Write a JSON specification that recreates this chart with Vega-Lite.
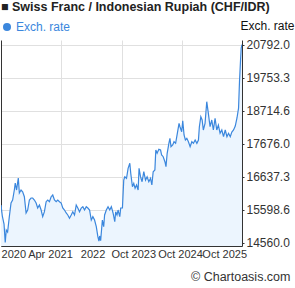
{
  "$schema": "https://vega.github.io/schema/vega-lite/v6.json",
  "autosize": {"type": "none"},
  "width": 241,
  "height": 206,
  "padding": {"left": 1, "top": 40, "right": 53, "bottom": 42},
  "background": "white",
  "config": {"view": {"stroke": null}, "font": "Liberation Sans"},
  "title": {"text": "■ Swiss Franc / Indonesian Rupiah (CHF/IDR)", "anchor": "start", "frame": "group", "fontSize": 12.5, "fontWeight": "bold", "color": "#222222", "font": "Liberation Sans", "offset": 6},
  "data": {"values": [
    {"date": "2020-10-20", "rate": 15740}, {"date": "2020-10-30", "rate": 15394}, {"date": "2020-11-12", "rate": 15142}, {"date": "2020-11-21", "rate": 14560},
    {"date": "2020-11-29", "rate": 14953}, {"date": "2020-12-09", "rate": 14890}, {"date": "2020-12-22", "rate": 15372}, {"date": "2021-01-04", "rate": 15803},
    {"date": "2021-01-16", "rate": 15898}, {"date": "2021-01-29", "rate": 16212}, {"date": "2021-02-05", "rate": 16433}, {"date": "2021-02-15", "rate": 16212},
    {"date": "2021-02-28", "rate": 16590}, {"date": "2021-03-08", "rate": 16118}, {"date": "2021-03-21", "rate": 16212}, {"date": "2021-04-02", "rate": 16159},
    {"date": "2021-04-15", "rate": 16002}, {"date": "2021-04-28", "rate": 15489}, {"date": "2021-05-10", "rate": 15583}, {"date": "2021-05-23", "rate": 15898},
    {"date": "2021-06-05", "rate": 15961}, {"date": "2021-06-17", "rate": 15961}, {"date": "2021-06-30", "rate": 15898}, {"date": "2021-07-13", "rate": 15803},
    {"date": "2021-07-25", "rate": 15646}, {"date": "2021-08-07", "rate": 15740}, {"date": "2021-08-20", "rate": 15583}, {"date": "2021-09-01", "rate": 15372},
    {"date": "2021-09-14", "rate": 15529}, {"date": "2021-09-27", "rate": 15844}, {"date": "2021-10-09", "rate": 15898}, {"date": "2021-10-22", "rate": 15844},
    {"date": "2021-11-04", "rate": 16002}, {"date": "2021-11-16", "rate": 16055}, {"date": "2021-11-29", "rate": 15898}, {"date": "2021-12-12", "rate": 15844},
    {"date": "2021-12-24", "rate": 15898}, {"date": "2022-01-06", "rate": 15844}, {"date": "2022-01-19", "rate": 15803}, {"date": "2022-01-31", "rate": 15646},
    {"date": "2022-02-13", "rate": 15583}, {"date": "2022-02-26", "rate": 15489}, {"date": "2022-03-10", "rate": 15426}, {"date": "2022-03-23", "rate": 15322},
    {"date": "2022-04-05", "rate": 15426}, {"date": "2022-04-17", "rate": 15529}, {"date": "2022-04-30", "rate": 15426}, {"date": "2022-05-13", "rate": 15740},
    {"date": "2022-05-25", "rate": 15646}, {"date": "2022-06-07", "rate": 15529}, {"date": "2022-06-20", "rate": 15646}, {"date": "2022-07-02", "rate": 15687},
    {"date": "2022-07-15", "rate": 15583}, {"date": "2022-07-28", "rate": 15687}, {"date": "2022-08-09", "rate": 15646}, {"date": "2022-08-22", "rate": 15583},
    {"date": "2022-09-04", "rate": 15268}, {"date": "2022-09-16", "rate": 15372}, {"date": "2022-09-29", "rate": 15268}, {"date": "2022-10-12", "rate": 15057},
    {"date": "2022-10-24", "rate": 14743}, {"date": "2022-11-01", "rate": 14600}, {"date": "2022-11-06", "rate": 14765}, {"date": "2022-11-14", "rate": 14620},
    {"date": "2022-11-27", "rate": 15268}, {"date": "2022-12-07", "rate": 15057}, {"date": "2022-12-14", "rate": 15426}, {"date": "2022-12-27", "rate": 15583},
    {"date": "2023-01-09", "rate": 15687}, {"date": "2023-01-22", "rate": 15583}, {"date": "2023-02-03", "rate": 15687}, {"date": "2023-02-16", "rate": 15489},
    {"date": "2023-03-01", "rate": 15215}, {"date": "2023-03-08", "rate": 15529}, {"date": "2023-03-18", "rate": 15426}, {"date": "2023-03-26", "rate": 15583},
    {"date": "2023-04-08", "rate": 15372}, {"date": "2023-04-15", "rate": 15646}, {"date": "2023-04-28", "rate": 15646}, {"date": "2023-05-08", "rate": 16527},
    {"date": "2023-05-16", "rate": 16631}, {"date": "2023-05-29", "rate": 16581}, {"date": "2023-06-10", "rate": 16895}, {"date": "2023-06-23", "rate": 17053},
    {"date": "2023-06-30", "rate": 16738}, {"date": "2023-07-13", "rate": 16316}, {"date": "2023-07-23", "rate": 16423}, {"date": "2023-08-02", "rate": 16266},
    {"date": "2023-08-13", "rate": 16370}, {"date": "2023-08-25", "rate": 16212}, {"date": "2023-09-01", "rate": 16895}, {"date": "2023-09-12", "rate": 16631},
    {"date": "2023-09-24", "rate": 16474}, {"date": "2023-10-07", "rate": 16788}, {"date": "2023-10-20", "rate": 16527}, {"date": "2023-11-01", "rate": 16631},
    {"date": "2023-11-14", "rate": 16474}, {"date": "2023-11-27", "rate": 16581}, {"date": "2023-12-07", "rate": 16370}, {"date": "2023-12-17", "rate": 16788},
    {"date": "2023-12-30", "rate": 16842}, {"date": "2024-01-06", "rate": 17471}, {"date": "2024-01-16", "rate": 17368}, {"date": "2024-01-29", "rate": 17493},
    {"date": "2024-02-11", "rate": 17471}, {"date": "2024-02-19", "rate": 17314}, {"date": "2024-03-02", "rate": 17261}, {"date": "2024-03-15", "rate": 17103},
    {"date": "2024-03-23", "rate": 16946}, {"date": "2024-04-01", "rate": 17368}, {"date": "2024-04-14", "rate": 17682}, {"date": "2024-04-22", "rate": 17840},
    {"date": "2024-04-30", "rate": 17575}, {"date": "2024-05-13", "rate": 17629}, {"date": "2024-05-23", "rate": 17733}, {"date": "2024-06-04", "rate": 17682},
    {"date": "2024-06-17", "rate": 17997}, {"date": "2024-06-30", "rate": 18312}, {"date": "2024-07-07", "rate": 18205}, {"date": "2024-07-20", "rate": 18047},
    {"date": "2024-07-28", "rate": 18394}, {"date": "2024-08-07", "rate": 17944}, {"date": "2024-08-17", "rate": 17786}, {"date": "2024-08-28", "rate": 17840},
    {"date": "2024-09-09", "rate": 17733}, {"date": "2024-09-22", "rate": 17575}, {"date": "2024-10-05", "rate": 17733}, {"date": "2024-10-17", "rate": 17682},
    {"date": "2024-10-30", "rate": 17786}, {"date": "2024-11-12", "rate": 17682}, {"date": "2024-11-24", "rate": 17786}, {"date": "2024-12-01", "rate": 18205},
    {"date": "2024-12-12", "rate": 18520}, {"date": "2024-12-22", "rate": 18416}, {"date": "2024-12-31", "rate": 18101}, {"date": "2025-01-13", "rate": 18312},
    {"date": "2025-01-26", "rate": 18992}, {"date": "2025-02-07", "rate": 18627}, {"date": "2025-02-20", "rate": 18205}, {"date": "2025-03-05", "rate": 18416},
    {"date": "2025-03-17", "rate": 18101}, {"date": "2025-03-30", "rate": 18469}, {"date": "2025-04-12", "rate": 18101}, {"date": "2025-04-24", "rate": 18258},
    {"date": "2025-05-07", "rate": 17997}, {"date": "2025-05-20", "rate": 18101}, {"date": "2025-06-02", "rate": 17890}, {"date": "2025-06-15", "rate": 18101},
    {"date": "2025-06-28", "rate": 17890}, {"date": "2025-07-10", "rate": 17997}, {"date": "2025-07-23", "rate": 17890}, {"date": "2025-08-04", "rate": 18038},
    {"date": "2025-08-17", "rate": 18101}, {"date": "2025-08-30", "rate": 18227}, {"date": "2025-09-12", "rate": 18479}, {"date": "2025-09-24", "rate": 18793},
    {"date": "2025-10-01", "rate": 19621}, {"date": "2025-10-09", "rate": 20304}, {"date": "2025-10-14", "rate": 20682}, {"date": "2025-10-20", "rate": 20792}
  ]},
  "layer": [
    {
      "mark": {"type": "area", "color": "#ecf5fe", "clip": true},
      "encoding": {
        "x": {"field": "date", "type": "temporal",
          "scale": {"domain": [{"year": 2020, "month": 10, "date": 20, "utc": true}, {"year": 2025, "month": 10, "date": 20, "utc": true}], "nice": false},
          "axis": {"orient": "bottom", "title": null, "labels": false, "ticks": false, "grid": true, "gridColor": "#e0e0e0", "gridWidth": 1,
            "domain": true, "domainColor": "#333333", "domainWidth": 1,
            "values": [{"year": 2022, "month": 1, "date": 19, "utc": true}, {"year": 2023, "month": 4, "date": 21, "utc": true}, {"year": 2024, "month": 7, "date": 20, "utc": true}]}},
        "y": {"field": "rate", "type": "quantitative",
          "scale": {"domain": [14450, 20934], "nice": false, "zero": false},
          "axis": {"orient": "right", "values": [14560, 15598.6, 16637.3, 17676, 18714.6, 19753.3, 20792], "format": ".1f",
            "grid": true, "gridColor": "#e0e0e0", "domain": true, "domainColor": "#333333", "ticks": true, "tickSize": 2, "tickColor": "#333333",
            "labelFont": "Liberation Sans", "labelFontSize": 12, "labelColor": "#333333", "labelPadding": 2,
            "title": "Exch. rate", "titleAngle": 0, "titleAlign": "center", "titleBaseline": "middle", "titleX": 25, "titleY": -15,
            "titleFont": "Liberation Sans", "titleFontSize": 12, "titleFontWeight": "normal", "titleColor": "#111111"}}
      }
    },
    {
      "mark": {"type": "line", "strokeWidth": 1.2, "clip": true},
      "encoding": {
        "x": {"field": "date", "type": "temporal",
          "axis": {"orient": "bottom", "grid": false, "domain": false, "ticks": false, "labelPadding": 2,
            "labelFont": "Liberation Sans", "labelFontSize": 11, "labelColor": "#333333", "labelOverlap": false, "labelFlush": false,
            "values": [{"year": 2021, "month": 1, "date": 21, "utc": true}, {"year": 2021, "month": 10, "date": 26, "utc": true}, {"year": 2022, "month": 9, "date": 14, "utc": true}, {"year": 2023, "month": 7, "date": 19, "utc": true}, {"year": 2024, "month": 7, "date": 7, "utc": true}, {"year": 2025, "month": 6, "date": 7, "utc": true}],
            "labelExpr": "utcyear(datum.value) == 2021 ? (utcmonth(datum.value) == 0 ? '2020' : 'Apr 2021') : utcyear(datum.value) == 2022 ? '2022' : utcyear(datum.value) == 2023 ? 'Oct 2023' : utcyear(datum.value) == 2024 ? 'Oct 2024' : 'Oct 2025'",
            "title": "© Chartoasis.com", "titleAnchor": "end", "titleAlign": "right", "titleBaseline": "middle", "titleX": 289, "titleY": 30,
            "titleFont": "Liberation Sans", "titleFontSize": 12.5, "titleFontWeight": "normal", "titleColor": "#333333"}},
        "y": {"field": "rate", "type": "quantitative",
          "axis": {"orient": "left", "labels": false, "ticks": false, "grid": false, "domain": true, "domainColor": "#333333", "title": null}},
        "color": {"datum": "Exch. rate", "scale": {"range": ["#3b87dd"]},
          "legend": {"orient": "none", "legendX": 0, "legendY": -19, "title": null, "padding": 0, "symbolType": "circle", "symbolSize": 64,
            "symbolFillColor": "#3b87dd", "symbolStrokeWidth": 0, "labelColor": "#3b87dd", "labelFont": "Liberation Sans", "labelFontSize": 12, "labelOffset": 3}}
      }
    }
  ],
  "resolve": {"axis": {"x": "independent", "y": "independent"}}
}
